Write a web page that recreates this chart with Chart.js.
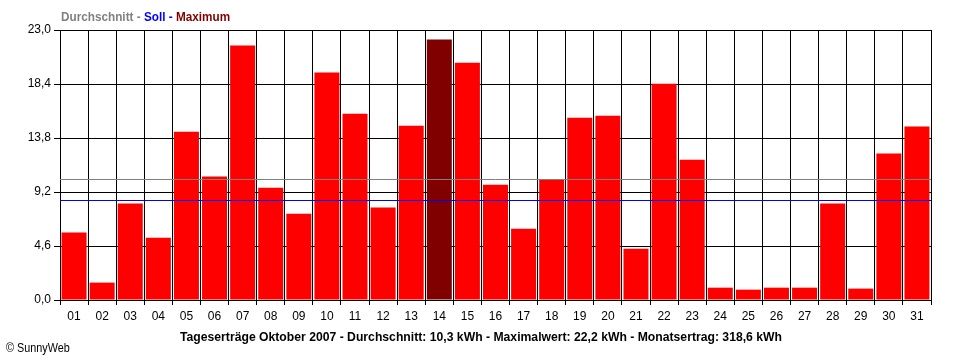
<!DOCTYPE html>
<html>
<head>
<meta charset="utf-8">
<script src="https://cdn.jsdelivr.net/npm/chart.js@4/dist/chart.umd.min.js"></script>
<style>
  html, body { margin: 0; padding: 0; background: #fff; }
  #wrap { position: relative; width: 960px; height: 360px; overflow: hidden; }
  canvas { position: absolute; left: 0; top: 0; }
  .txt { position: absolute; white-space: nowrap; font-family: "Liberation Sans", Arial, sans-serif; transform-origin: 0 50%; line-height: 15px; }
  #legend { left: 61px; top: 9px; font-size: 13px; font-weight: bold; }
  #footer { left: 180px; top: 329px; font-size: 13px; font-weight: bold; color: #000; }
  #copy { left: 6px; top: 341px; font-size: 12px; color: #000; }
</style>
</head>
<body>
<div id="wrap">
  <canvas id="c" width="960" height="360"></canvas>
  <div class="txt" id="legend"><span style="color:#808080">Durchschnitt - </span><span style="color:#0000ff">Soll - </span><span style="color:#800000">Maximum</span></div>
  <div class="txt" id="footer">Tageserträge Oktober 2007 - Durchschnitt: 10,3 kWh - Maximalwert: 22,2 kWh - Monatsertrag: 318,6 kWh</div>
  <div class="txt" id="copy">© SunnyWeb</div>
</div>
<script>
const days = ['01','02','03','04','05','06','07','08','09','10','11','12','13','14','15','16','17','18','19','20','21','22','23','24','25','26','27','28','29','30','31'];
const dailyYield = [5.74,1.48,8.21,5.31,14.34,10.51,21.67,9.57,7.35,19.37,15.87,7.87,14.85,22.2,20.22,9.82,6.08,10.22,15.53,15.70,4.37,18.43,11.95,1.05,0.88,1.05,1.05,8.21,0.97,12.47,14.77];
const yTickValues = [0, 4.6, 9.2, 13.8, 18.4, 23.0];
const averageValue = 10.3;
const targetValue = 8.5;

const maxIdx = dailyYield.indexOf(Math.max(...dailyYield));
const barColors = dailyYield.map((v, i) => i === maxIdx ? '#800000' : '#ff0000');

// fit text widths to the reference's narrow font
[['legend', 169], ['footer', 602], ['copy', 64]].forEach(([id, w]) => {
  const el = document.getElementById(id);
  el.style.transform = 'scaleX(' + (w / el.offsetWidth) + ')';
});

const refLines = {
  id: 'refLines',
  afterDatasetsDraw(chart) {
    const ctx = chart.ctx, y = chart.scales.y, a = chart.chartArea;
    [[averageValue, '#808080'], [targetValue, '#0000ff']].forEach(([v, col]) => {
      const py = Math.round(y.getPixelForValue(v)) + 0.5;
      ctx.save();
      ctx.strokeStyle = col; ctx.lineWidth = 1;
      ctx.beginPath(); ctx.moveTo(a.left, py); ctx.lineTo(a.right, py); ctx.stroke();
      ctx.restore();
    });
  }
};

const tickFont = { family: '"Liberation Sans", Arial, sans-serif', size: 12 };

new Chart(document.getElementById('c'), {
  type: 'bar',
  data: {
    labels: days,
    datasets: [{
      data: dailyYield,
      backgroundColor: barColors,
      borderWidth: 0,
      barPercentage: 0.89,
      categoryPercentage: 1.0
    }]
  },
  options: {
    responsive: false,
    animation: false,
    events: [],
    layout: { padding: { top: 30, right: 29, left: 0, bottom: 0 } },
    plugins: { legend: { display: false }, tooltip: { enabled: false }, title: { display: false } },
    scales: {
      x: {
        offset: true,
        grid: { color: '#000', lineWidth: 1, offset: true, drawTicks: true, tickLength: 5 },
        border: { color: '#000', width: 1 },
        ticks: { color: '#000', font: tickFont, padding: 4, maxRotation: 0, autoSkip: false },
        afterFit(s) { s.height = 60; }
      },
      y: {
        min: 0, max: 23,
        grid: { color: '#000', lineWidth: 1, drawTicks: true, tickLength: 6 },
        border: { color: '#000', width: 1 },
        ticks: {
          color: '#000', font: tickFont, padding: 3,
          callback: (v) => Number(v).toFixed(1).replace('.', ',')
        },
        afterBuildTicks(s) { s.ticks = yTickValues.map(v => ({ value: v })); },
        afterFit(s) { s.width = 60; }
      }
    }
  },
  plugins: [refLines]
});
</script>
</body>
</html>
